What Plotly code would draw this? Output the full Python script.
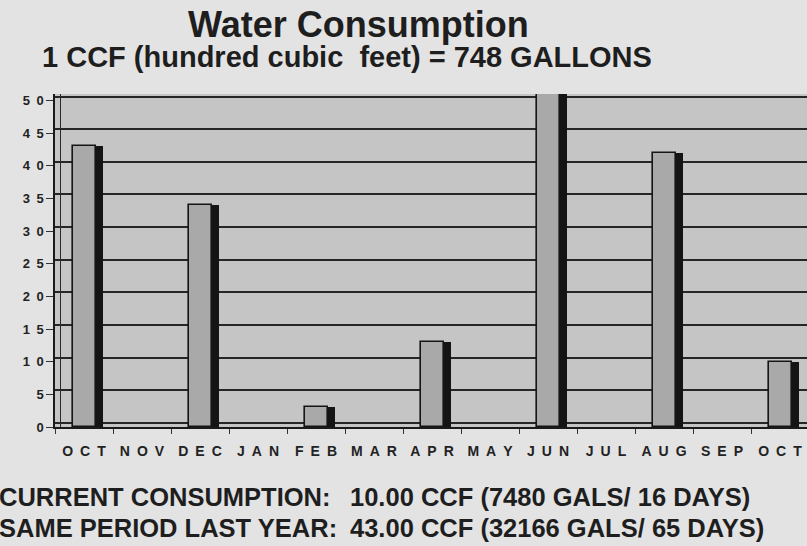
import plotly.graph_objects as go

# ---- data ----
months = ["OCT", "NOV", "DEC", "JAN", "FEB", "MAR", "APR", "MAY", "JUN", "JUL", "AUG", "SEP", "OCT"]
ccf_values = [43, 0, 34, 0, 3, 0, 13, 0, 51, 0, 42, 0, 10]
y_ticks = [0, 5, 10, 15, 20, 25, 30, 35, 40, 45, 50]
title_text = "Water Consumption"
subtitle_text = "1 CCF (hundred cubic  feet) = 748 GALLONS"
summary_labels = ["CURRENT CONSUMPTION:", "SAME PERIOD LAST YEAR:"]
summary_values = ["10.00 CCF (7480 GALS/ 16 DAYS)", "43.00 CCF (32166 GALS/ 65 DAYS)"]

# ---- layout geometry (pixels) ----
W, H = 807, 546
PL, PR, PT, PB = 55, 807, 94, 427
CAT_W = 58.0
Y_MAX = 51
px_per_unit = (PB - PT) / Y_MAX
wall_shift = 4 / px_per_unit

def px_x(px):
    return (px - PL) / (PR - PL)

def px_y(py):
    return (PB - py) / (PB - PT)

x_pos = list(range(len(months)))
spaced = lambda s: "\u2002".join(list(s))
tick_txt = [spaced(str(v)) for v in y_ticks]
outline_w = [1.6 if v > 0 else 0 for v in ccf_values]

FONT = "Liberation Sans, Arial, sans-serif"
TXT = "#1e1e1e"

fig = go.Figure()
# dark side face of each column
fig.add_trace(go.Bar(
    x=x_pos, y=ccf_values, width=7 / CAT_W, offset=12 / CAT_W,
    marker=dict(color="#141414", line=dict(width=0)),
    hoverinfo="skip", showlegend=False))
# front face of each column
fig.add_trace(go.Bar(
    x=x_pos, y=ccf_values, width=23 / CAT_W, offset=-11 / CAT_W,
    marker=dict(color="#a9a9a9", line=dict(color="#151515", width=outline_w)),
    hoverinfo="skip", showlegend=False))
# invisible traces for the back-wall axes
fig.add_trace(go.Scatter(x=[None], y=[None], yaxis="y2", mode="markers",
                         hoverinfo="skip", showlegend=False))
fig.add_trace(go.Scatter(x=[None], y=[None], yaxis="y3", mode="markers",
                         hoverinfo="skip", showlegend=False))

annotations = [
    dict(text="<b>" + title_text + "</b>", x=px_x(358), y=px_y(25), xref="paper", yref="paper",
         xanchor="center", yanchor="middle", showarrow=False,
         font=dict(family=FONT, size=36, color=TXT)),
    dict(text="<b>" + subtitle_text + "</b>", x=px_x(347), y=px_y(57), xref="paper", yref="paper",
         xanchor="center", yanchor="middle", showarrow=False,
         font=dict(family=FONT, size=29, color=TXT)),
]
for i, (lab, val) in enumerate(zip(summary_labels, summary_values)):
    yy = px_y(497 + 31 * i)
    annotations.append(dict(text=lab, x=px_x(-3), y=yy, xref="paper", yref="paper",
                            xanchor="left", yanchor="middle", showarrow=False,
                            font=dict(family=FONT, size=25.5, color=TXT, weight="bold")))
    annotations.append(dict(text=val, x=px_x(348), y=yy, xref="paper", yref="paper",
                            xanchor="left", yanchor="middle", showarrow=False,
                            font=dict(family=FONT, size=25.5, color=TXT, weight="bold")))

fig.update_layout(
    width=W, height=H,
    margin=dict(l=PL, r=W - PR, t=PT, b=H - PB, pad=0),
    paper_bgcolor="#e3e3e3", plot_bgcolor="#c5c5c5",
    barmode="overlay", bargap=0,
    annotations=annotations,
    xaxis=dict(range=[-0.5, -0.5 + (PR - PL) / CAT_W], tickmode="array",
               tickvals=x_pos, ticktext=[spaced(m) for m in months],
               ticks="", showgrid=False, zeroline=False,
               showline=True, linecolor="#1a1a1a", linewidth=2,
               tickfont=dict(family=FONT, size=14, color="#222", weight="bold"),
               ticklabelstandoff=10,
               minor=dict(tickmode="linear", tick0=0.5, dtick=1, ticks="outside",
                          ticklen=5, tickcolor="#333", tickwidth=1.2, showgrid=False)),
    yaxis=dict(range=[0, Y_MAX], tickmode="array", tickvals=y_ticks, ticktext=tick_txt,
               ticks="outside", ticklen=7, tickcolor="#333", tickwidth=1.3,
               showline=True, linecolor="#1a1a1a", linewidth=1.5,
               showgrid=False, zeroline=False,
               tickfont=dict(family=FONT, size=13, color="#222", weight="bold")),
    yaxis2=dict(range=[-wall_shift, Y_MAX - wall_shift], overlaying="y", anchor="x", side="left",
                tickmode="array", tickvals=y_ticks, showticklabels=False, ticks="",
                showgrid=True, gridcolor="#262626", gridwidth=1.6, zeroline=False,
                showline=False),
    yaxis3=dict(range=[0, Y_MAX], overlaying="y", anchor="free", position=px_x(60),
                side="left", showticklabels=False, ticks="", showgrid=False,
                zeroline=False, showline=True, linecolor="#2a2a2a", linewidth=1.2),
)

fig.write_html("out.html", config={"displayModeBar": False},
               post_script="document.body.style.margin='0';")
